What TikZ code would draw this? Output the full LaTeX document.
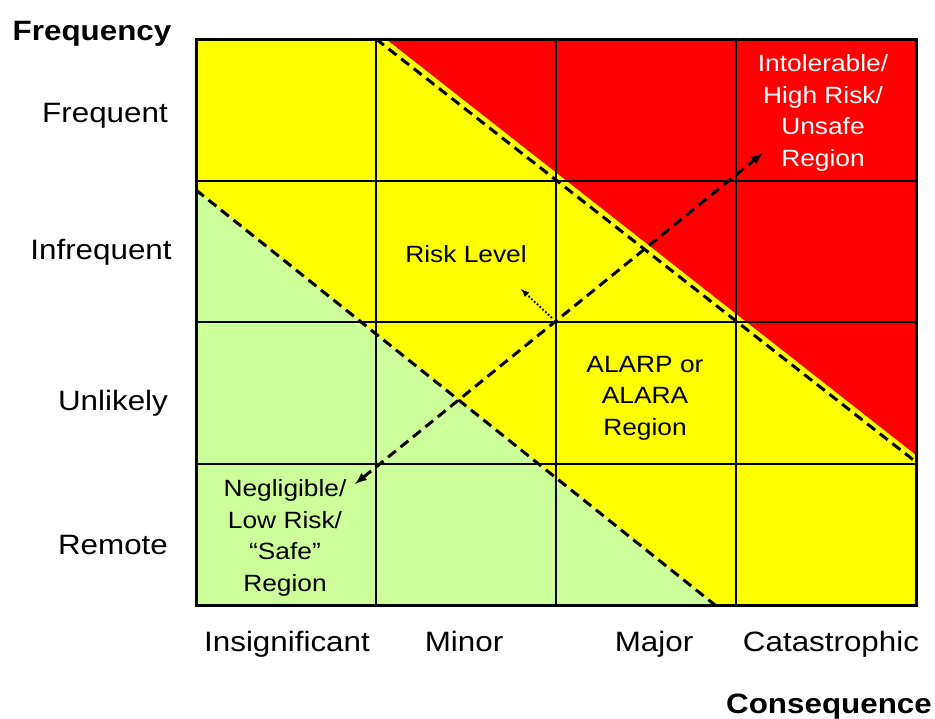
\documentclass[tikz,border=0pt]{standalone}
\usepackage{fontspec}
\setmainfont{Liberation Sans}[FakeStretch=1.12]
\usetikzlibrary{positioning}

\definecolor{riskred}{RGB}{255,0,0}
\definecolor{riskyellow}{RGB}{255,255,0}
\definecolor{riskgreen}{RGB}{204,255,153}

\begin{document}
\begin{tikzpicture}[x=1pt, y=-1pt,
        axislabel/.style={anchor=base, font=\fontsize{28}{32}\selectfont},
        axistitle/.style={anchor=base, font=\fontsize{28}{32}\selectfont\bfseries},
        region/.style={align=center, font=\fontsize{23.5}{31.5}\selectfont},
        boundary/.style={line width=3pt, dash pattern=on 10pt off 6pt},
        gridline/.style={line width=1.1pt}]
        \useasboundingbox (0,0) rectangle (935,718);
        % cells and risk regions
        \fill [riskyellow] (196,39) rectangle (916,605);
        \fill [riskred] (386,39) -- (916,39) -- (916,455) -- cycle;
        \fill [riskgreen] (196,190) -- (715,605) -- (196,605) -- cycle;
        \foreach \x in {376,556,736}
            \draw [gridline] (\x,39) -- (\x,605);
        \foreach \y in {181,322,464}
            \draw [gridline] (196,\y) -- (916,\y);
        \coordinate (redtop) at (376,39);
        \coordinate (redend) at (916,462);
        \coordinate (greentop) at (196,190);
        \coordinate (greenend) at (715,605);
        \draw [boundary] (redtop) -- (redend);
        \draw [boundary] (greentop) -- (greenend);
        \draw [line width=3pt] (196,39) rectangle (916,605);
        % axis labels
        \node [axistitle] (freq) at (92,40) {Frequency};
        \node [axislabel] (frequent) at (105,122) {Frequent};
        \node [axislabel] (infrequent) at (101,259) {Infrequent};
        \node [axislabel] (unlikely) at (113,410) {Unlikely};
        \node [axislabel] (remote) at (113,554) {Remote};
        \node [axislabel] (insig) at (287,651) {Insignificant};
        \node [axislabel] (minor) at (464,651) {Minor};
        \node [axislabel] (major) at (654,651) {Major};
        \node [axislabel] (catas) at (831,651) {Catastrophic};
        \node [axistitle] (conseq) at (829,713) {Consequence};
        % region texts
        \node [region, text=white] (unsafe) at (823,113) {Intolerable/\\High Risk/\\Unsafe\\Region};
        \node [region] (alarp) at (645,398) {ALARP or\\ALARA\\Region};
        \node [region] (safe) at (285,538) {Negligible/\\Low Risk/\\``Safe''\\Region};
        \node [region, anchor=base] (level) at (466,262) {Risk Level};
        % risk arrows
        \coordinate (lowrisk) at (355,484);
        \coordinate (highrisk) at (763,153);
        \coordinate (dotfrom) at (552,318);
        \coordinate (dotto) at (521,289);
        \draw [{latex[scale=1.3]}-{latex[scale=1.3]}, line width=3pt, dash pattern=on 10pt off 6pt] (lowrisk) -- (highrisk);
        \draw [-latex, line width=1.8pt, dotted] (dotfrom) -- (dotto);
    \end{tikzpicture}
\end{document}
